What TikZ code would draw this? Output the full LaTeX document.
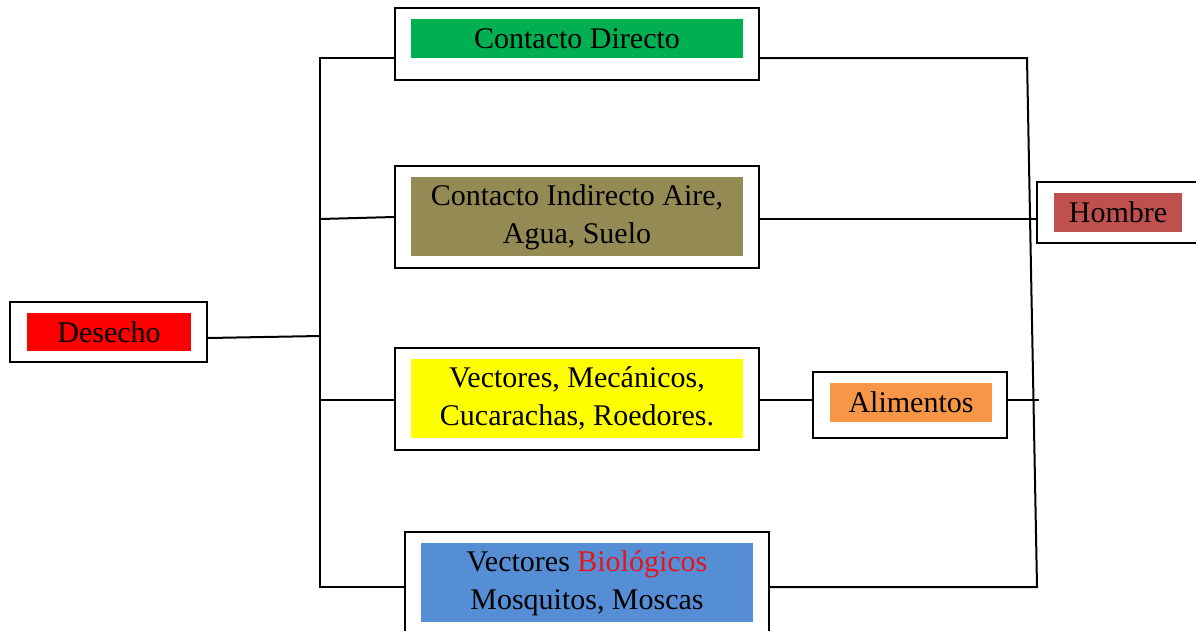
\documentclass[tikz,border=0pt]{standalone}
\usepackage{fontspec}
\setmainfont{Liberation Serif}
\usetikzlibrary{calc}
\definecolor{cgreen}{HTML}{00B050}
\definecolor{colive}{HTML}{948A54}
\definecolor{cyellow}{HTML}{FFFF00}
\definecolor{cblue}{HTML}{558ED5}
\definecolor{cred}{HTML}{FF0000}
\definecolor{corange}{HTML}{F79646}
\definecolor{cbrick}{HTML}{C0504D}
\definecolor{ctxtred}{HTML}{E8141B}
\begin{document}
\begin{tikzpicture}[x=1pt,y=-1pt,line width=2pt,
  outerbox/.style={draw=black,line width=2pt,fill=white,inner sep=0pt},
  innerbox/.style={inner sep=0pt,align=center,font=\fontsize{30}{38}\selectfont},
  conn/.style={draw=black,line width=2pt,line cap=rect}]
\useasboundingbox (0,0) rectangle (1196,630);
\clip (0,0) rectangle (1196,630);
% outer boxes
\node[outerbox,minimum width=197pt,minimum height=60pt] (des) at (108.5,332) {};
\node[outerbox,minimum width=364pt,minimum height=72pt] (cd) at (577,44) {};
\node[outerbox,minimum width=364pt,minimum height=102pt] (ci) at (577,217) {};
\node[outerbox,minimum width=364pt,minimum height=102pt] (vm) at (577,399) {};
\node[outerbox,minimum width=194pt,minimum height=66pt] (al) at (910,405) {};
\node[outerbox,minimum width=364pt,minimum height=120pt] (vb) at (587,592) {};
\node[outerbox,minimum width=170pt,minimum height=61pt] (hom) at (1122,212.5) {};
% inner coloured boxes with text
\node[innerbox,fill=cred,minimum width=164pt,minimum height=38pt] (desi) at (109,332) {Desecho};
\node[innerbox,fill=cgreen,minimum width=332pt,minimum height=39pt] (cdi) at (577,38.5) {Contacto Directo};
\node[innerbox,fill=colive,minimum width=332pt,minimum height=79pt,text depth=5pt] (cii) at (577,216.5) {Contacto Indirecto Aire,\\Agua, Suelo};
\node[innerbox,fill=cyellow,minimum width=332pt,minimum height=79pt,text depth=5pt] (vmi) at (577,398.5) {Vectores, Mecánicos,\\Cucarachas, Roedores.};
\node[innerbox,fill=corange,minimum width=162pt,minimum height=39pt] (ali) at (911,402.5) {Alimentos};
\node[innerbox,fill=cblue,minimum width=332pt,minimum height=79pt,text depth=5pt] (vbi) at (587,582.5) {Vectores \textcolor{ctxtred}{Biológicos}\\Mosquitos, Moscas};
\node[innerbox,fill=cbrick,minimum width=128pt,minimum height=39pt] (homi) at (1118,212.5) {Hombre};
% junction coordinates
\coordinate (tt) at (320,58);
\coordinate (tb) at (320,587);
\coordinate (jd) at (320,336);
\coordinate (jci) at (320,219);
\coordinate (jvm) at (320,400);
\coordinate (rt) at (1027,58);
\coordinate (rb) at (1037,587);
\coordinate (ae) at (1038,400);
% connectors
\draw[conn] (tb) -- (tt) -- (cd.west |- tt);
\draw[conn] ($(des.east)+(0,6)$) -- (jd);
\draw[conn] (jci) -- (ci.west);
\draw[conn] (jvm) -- (vm.west |- jvm);
\draw[conn] (tt) -- (tb) -- (vb.west |- tb);
\draw[conn] (vm.east |- jvm) -- (al.west |- jvm);
\draw[conn] (al.east |- jvm) -- (ae);
\draw[conn] (cd.east |- tt) -- (rt) -- (rb) -- (vb.east |- rb);
\draw[conn] ($(ci.east)+(0,2)$) -- ($(hom.west)+(0,6.5)$);
\end{tikzpicture}
\end{document}
